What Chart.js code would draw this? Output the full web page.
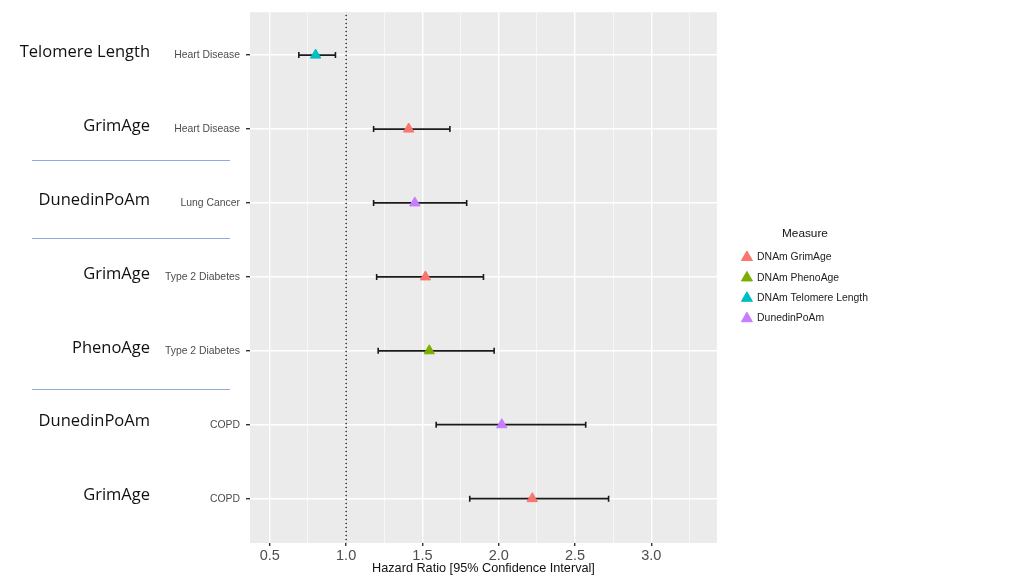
<!DOCTYPE html>
<html>
<head>
<meta charset="utf-8">
<script src="https://cdn.jsdelivr.net/npm/chart.js@4/dist/chart.umd.min.js"></script>
<style>
  html, body { margin: 0; padding: 0; background: #fff; }
  #wrap { position: relative; width: 1024px; height: 576px; }
</style>
</head>
<body>
<div id="wrap"><canvas id="forest" width="1024" height="576"></canvas></div>
<script>
// --- data ---
const outcomes = ["Heart Disease", "Heart Disease", "Lung Cancer", "Type 2 Diabetes", "Type 2 Diabetes", "COPD", "COPD"];
const clocks = ["Telomere Length", "GrimAge", "DunedinPoAm", "GrimAge", "PhenoAge", "DunedinPoAm", "GrimAge"];
const rowMeasure = ["DNAm Telomere Length", "DNAm GrimAge", "DunedinPoAm", "DNAm GrimAge", "DNAm PhenoAge", "DunedinPoAm", "DNAm GrimAge"];
const hazardRatio = [0.80, 1.41, 1.45, 1.52, 1.545, 2.02, 2.22];
const ciLow = [0.69, 1.18, 1.18, 1.20, 1.21, 1.59, 1.81];
const ciHigh = [0.93, 1.68, 1.79, 1.90, 1.97, 2.57, 2.72];
const measures = ["DNAm GrimAge", "DNAm PhenoAge", "DNAm Telomere Length", "DunedinPoAm"];
const measureColors = ["#F8766D", "#7CAE00", "#00BFC4", "#C77CFF"];
const xTicks = [0.5, 1.0, 1.5, 2.0, 2.5, 3.0];
const refLine = 1.0;
// the hand-drawn divider lines sit between these rows
const separatorRows = [1.42, 2.47, 4.52];

// --- triangles, one dataset per measure ---
const pointSets = measures.map((m, k) => ({
  type: "scatter",
  label: m,
  data: hazardRatio.map((v, i) => rowMeasure[i] === m ? { x: v, y: i } : null).filter(Boolean),
  pointStyle: "triangle",
  pointRadius: 6,
  pointHoverRadius: 6,
  backgroundColor: measureColors[k],
  borderColor: measureColors[k],
  pointBorderWidth: 1,
}));

// --- whiskers, one small line per row ---
const ciSets = hazardRatio.map((_, i) => ({
  type: "line",
  label: "ci" + i,
  data: [{ x: ciLow[i], y: i }, { x: ciHigh[i], y: i }],
  borderColor: "#1a1a1a",
  borderWidth: 1.7,
  pointStyle: "line",
  rotation: 90,
  pointRadius: 3,
  pointBorderWidth: 1.6,
  pointBorderColor: "#1a1a1a",
  fill: false,
}));

const refSet = {
  type: "line",
  label: "ref",
  data: [{ x: refLine, y: -0.6 }, { x: refLine, y: outcomes.length - 0.4 }],
  borderColor: "#222",
  borderWidth: 1.4,
  borderDash: [1.4, 2.6],
  pointRadius: 0,
  fill: false,
};

// grey ggplot panel + left-hand clock labels
const panelAndNotes = {
  id: "panelAndNotes",
  afterLayout(chart) {
    // leave a little air between the panel and the legend
    chart.legend.left += 15;
    chart.legend.right += 15;
  },
  beforeDraw(chart) {
    const { ctx, chartArea: a } = chart;
    ctx.save();
    ctx.fillStyle = "#EBEBEB";
    ctx.fillRect(a.left, a.top, a.right - a.left, a.bottom - a.top);
    ctx.restore();
  },
  afterDraw(chart) {
    const { ctx } = chart;
    const y = chart.scales.y;
    ctx.save();
    ctx.font = "16.5px 'Open Sans'";
    ctx.fillStyle = "#111";
    ctx.textAlign = "right";
    ctx.textBaseline = "middle";
    clocks.forEach((c, i) => ctx.fillText(c, 150, y.getPixelForValue(i) - 3));
    ctx.strokeStyle = "#8FAADC";
    ctx.lineWidth = 1;
    separatorRows.forEach(r => {
      const py = Math.round(y.getPixelForValue(r)) + 0.5;
      ctx.beginPath();
      ctx.moveTo(32, py);
      ctx.lineTo(230, py);
      ctx.stroke();
    });
    ctx.restore();
  },
};

new Chart(document.getElementById("forest"), {
  data: { datasets: [...pointSets, ...ciSets, refSet] },
  options: {
    responsive: false,
    animation: false,
    layout: { padding: { left: 0, right: 161, top: 10, bottom: 0 } },
    plugins: {
      tooltip: { enabled: false },
      legend: {
        position: "right",
        align: "start",
        labels: {
          filter: item => measures.includes(item.text),
          usePointStyle: true,
          pointStyle: "triangle",
          boxWidth: 10,
          boxHeight: 9,
          padding: 10,
          color: "#222",
          font: { family: "'Liberation Sans'", size: 10.4 },
        },
        title: {
          display: true,
          text: "Measure",
          color: "#111",
          font: { family: "'Liberation Sans'", size: 11.8 },
          padding: { top: 218, bottom: 0 },
        },
      },
    },
    scales: {
      x: {
        type: "linear",
        min: 0.37,
        max: 3.43,
        afterBuildTicks: s => {
          const t = [];
          for (let k = 0; k < 12; k++) t.push({ value: 0.5 + k * 0.25 });
          s.ticks = t;
        },
        afterFit: s => { s.height = 33; },
        border: { display: false },
        grid: {
          color: "#ffffff",
          lineWidth: c => xTicks.includes(c.tick && c.tick.value) ? 1.4 : 0.6,
          tickColor: c => xTicks.includes(c.tick && c.tick.value) ? "#333" : "rgba(0,0,0,0)",
          tickLength: 3,
        },
        ticks: {
          autoSkip: false,
          maxRotation: 0,
          padding: 1,
          color: "#4D4D4D",
          font: { family: "'Liberation Sans'", size: 14.5 },
          callback: v => xTicks.includes(v) ? v.toFixed(1) : "",
        },
        title: {
          display: true,
          text: "Hazard Ratio [95% Confidence Interval]",
          color: "#111",
          font: { family: "'Liberation Sans'", size: 12.7 },
          padding: { top: -3, bottom: 0 },
        },
      },
      y: {
        type: "linear",
        reverse: true,
        min: -0.58,
        max: outcomes.length - 0.4,
        afterBuildTicks: s => { s.ticks = outcomes.map((_, i) => ({ value: i })); },
        afterFit: s => { s.width = 250; },
        border: { display: false },
        grid: { color: "#ffffff", lineWidth: 1.4, tickColor: "#333", tickLength: 4 },
        ticks: {
          padding: 6,
          color: "#4D4D4D",
          font: { family: "'Liberation Sans'", size: 10.4 },
          callback: v => outcomes[v],
        },
      },
    },
  },
  plugins: [panelAndNotes],
});
</script>
</body>
</html>
